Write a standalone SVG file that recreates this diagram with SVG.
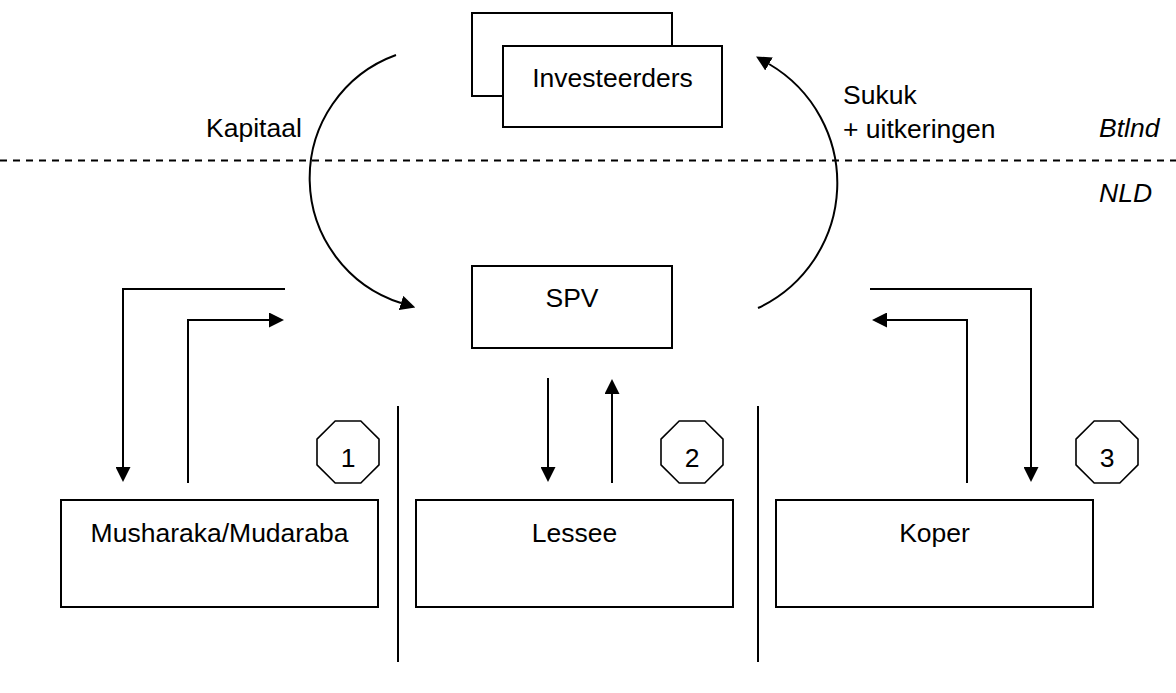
<svg xmlns="http://www.w3.org/2000/svg" xmlns:xlink="http://www.w3.org/1999/xlink" width="1176" height="693" viewBox="0 0 1176 693">
  <style>
    .box { fill: #fff; stroke: #000; stroke-width: 2; }
    .lbl { font-family: "Liberation Sans", Arial, sans-serif; font-size: 26.5px; fill: #000; }
    .mid { text-anchor: middle; }
    .ital { font-style: italic; }
    .conn { fill: none; stroke: #000; stroke-width: 2; }
    .arrow { marker-end: url(#head); }
    .sep { stroke: #000; stroke-width: 2; }
    .dash { stroke: #000; stroke-width: 2; stroke-dasharray: 7 6; }
    .oct { fill: #fff; stroke: #000; stroke-width: 1.6; }
  </style>
  <defs>
    <marker id="head" markerUnits="userSpaceOnUse" viewBox="0 0 15 15" markerWidth="15" markerHeight="15" refX="0" refY="7.5" orient="auto">
      <path d="M0,0 L15,7.5 L0,15 Z" fill="#000"/>
    </marker>
    <polygon id="octagon" points="-12.8,-31 12.8,-31 31,-12.8 31,12.8 12.8,31 -12.8,31 -31,12.8 -31,-12.8"/>
  </defs>

  <rect width="1176" height="693" fill="#fff"/>

  <!-- border between the two jurisdictions -->
  <line class="dash" x1="0" y1="160.5" x2="1176" y2="160.5"/>
  <text class="lbl ital" x="1099" y="137">Btlnd</text>
  <text class="lbl ital" x="1099" y="202">NLD</text>

  <!-- column separators -->
  <line class="sep" x1="398" y1="406" x2="398" y2="662"/>
  <line class="sep" x1="758" y1="406" x2="758" y2="662"/>

  <g id="investeerders">
    <rect class="box" x="472" y="13" width="200" height="83"/>
    <rect class="box" x="503" y="46" width="219" height="81"/>
    <text class="lbl mid" x="612.5" y="87">Investeerders</text>
  </g>

  <g id="spv">
    <rect class="box" x="472" y="266" width="200" height="82"/>
    <text class="lbl mid" x="572" y="307">SPV</text>
  </g>

  <g id="musharaka">
    <rect class="box" x="61" y="500" width="317" height="107"/>
    <text class="lbl mid" x="219.5" y="542">Musharaka/Mudaraba</text>
  </g>

  <g id="lessee">
    <rect class="box" x="416" y="500" width="317" height="107"/>
    <text class="lbl mid" x="574.5" y="542">Lessee</text>
  </g>

  <g id="koper">
    <rect class="box" x="776" y="500" width="317" height="107"/>
    <text class="lbl mid" x="934.5" y="542">Koper</text>
  </g>

  <g id="badge-1">
    <use xlink:href="#octagon" class="oct" x="348" y="452"/>
    <text class="lbl mid" x="348" y="467">1</text>
  </g>
  <g id="badge-2">
    <use xlink:href="#octagon" class="oct" x="692" y="452"/>
    <text class="lbl mid" x="692" y="467">2</text>
  </g>
  <g id="badge-3">
    <use xlink:href="#octagon" class="oct" x="1107" y="452"/>
    <text class="lbl mid" x="1107" y="467">3</text>
  </g>

  <g id="connectors">
    <!-- capital flowing down, sukuk flowing up -->
    <path class="conn arrow" d="M396,55 A131,131 0 0 0 401,303"/>
    <path class="conn arrow" d="M758,308 A138,138 0 0 0 769,64"/>
    <text class="lbl" x="206" y="137">Kapitaal</text>
    <text class="lbl" x="843" y="104">Sukuk</text>
    <text class="lbl" x="843" y="138">+ uitkeringen</text>

    <!-- structure 1 -->
    <path class="conn arrow" d="M285,289 H123 V467"/>
    <path class="conn arrow" d="M188,483 V320 H269"/>
    <!-- structure 2 -->
    <path class="conn arrow" d="M548,378 V467"/>
    <path class="conn arrow" d="M612,483 V394"/>
    <!-- structure 3 -->
    <path class="conn arrow" d="M870,289 H1031 V467"/>
    <path class="conn arrow" d="M967,483 V320 H887"/>
  </g>
</svg>
